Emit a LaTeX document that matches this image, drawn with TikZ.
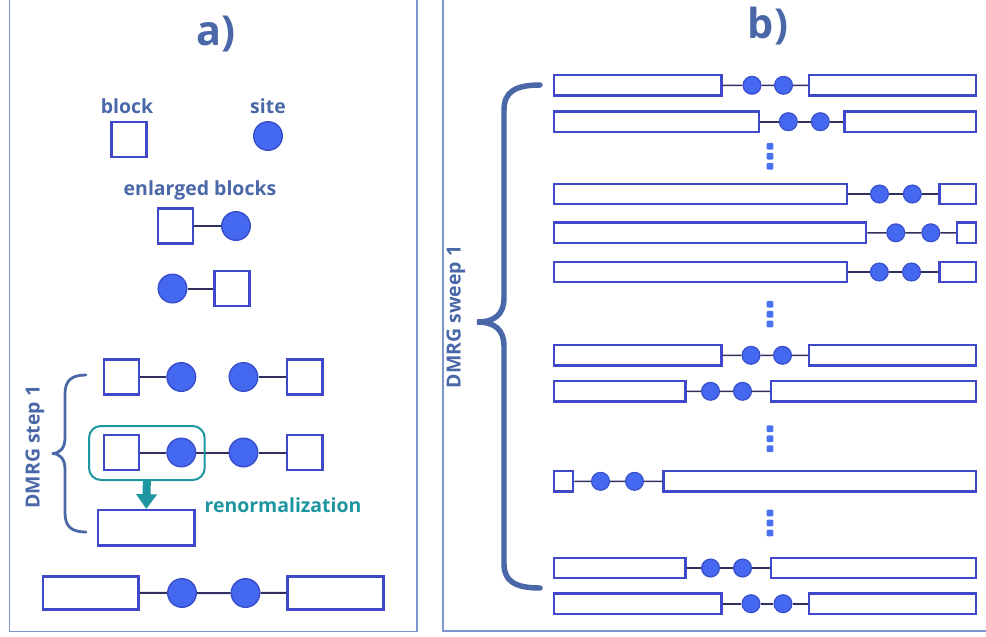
\documentclass[tikz,border=0pt]{standalone}
\usepackage{fontspec}
\setmainfont{Open Sans}
\usetikzlibrary{fit,arrows.meta}
\definecolor{tblue}{RGB}{74,103,168}
\definecolor{framec}{RGB}{128,148,204}
\definecolor{sqblue}{RGB}{62,72,200}
\definecolor{sitefill}{RGB}{68,104,240}
\definecolor{siteline}{RGB}{58,79,204}
\definecolor{myteal}{RGB}{30,150,160}
\definecolor{connc}{RGB}{48,48,96}
\definecolor{dotc}{RGB}{74,114,240}
\newcommand\bRow[6]{%
  \node[brect, fit={(553.8,#6-10.2) (#2-1.1,#6+10.2)}] (#1L) {};
  \node[bsite] (#1a) at (#3,#6) {};
  \node[bsite] (#1b) at (#4,#6) {};
  \node[brect, fit={(#5+1.1,#6-10.2) (976.2,#6+10.2)}] (#1R) {};
  \draw[bconn] (#1L) -- (#1a) -- (#1b) -- (#1R);
}
\begin{document}
\begin{tikzpicture}[x=0.75pt,y=-0.75pt,
  lbl/.style={text=tblue, font=\bfseries\fontsize{14.6}{16}\selectfont, inner sep=0pt},
  titl/.style={text=tblue, font=\bfseries\fontsize{31}{36}\selectfont, inner sep=0pt},
  ablk/.style={draw=sqblue, line width=1.9pt, fill=white, minimum size=26.3pt, inner sep=0pt},
  asite/.style={circle, draw=siteline, line width=1.1pt, fill=sitefill, minimum size=21.4pt, inner sep=0pt},
  arect/.style={draw=sqblue, line width=1.9pt, fill=white, inner sep=0pt},
  brect/.style={draw=sqblue, line width=1.7pt, fill=white, inner sep=0pt},
  bsite/.style={circle, draw=siteline, line width=0.9pt, fill=sitefill, minimum size=13.4pt, inner sep=0pt},
  aconn/.style={draw=connc, line width=1.5pt},
  bconn/.style={draw=connc, line width=1.2pt},
  dotn/.style={fill=dotc, rounded corners=0.8pt, minimum size=5pt, inner sep=0pt},
  tealbox/.style={draw=myteal, line width=1.5pt, rounded corners=9pt, inner sep=0pt},
  tarrow/.style={draw=myteal, line width=6pt, -{Triangle[width=15pt,length=11pt]}},
  bracec/.style={draw=tblue, line cap=round},
  framel/.style={draw=framec, line width=0.8pt}
]
\useasboundingbox (0,0) rectangle (986,636);

% frames
\draw[framel] (9.3,-5) -- (9.3,631.5) -- (417,631.5) -- (417,-5);
\draw[framel] (443,-5) -- (443,631) -- (992,631);

% titles
\node[titl, anchor=base] (ta) at (216,45) {a)};
\node[titl, anchor=base] (tb) at (768,38) {b)};

% ---------- panel a ----------
\node[lbl, anchor=base] (lblock) at (127,113) {block};
\node[lbl, anchor=base] (lsite) at (268,113) {site};
\node[ablk] (blk) at (129,139.3) {};
\node[asite] (site) at (268,136) {};

\node[lbl, anchor=base] (lenl) at (200,195) {enlarged blocks};
\node[ablk] (e1s) at (175.5,226) {};
\node[asite] (e1c) at (236,226) {};
\draw[aconn] (e1s) -- (e1c);
\node[asite] (e2c) at (172.5,288.5) {};
\node[ablk] (e2s) at (232,288.5) {};
\draw[aconn] (e2c) -- (e2s);

% DMRG step rows
\node[ablk] (s1a) at (121.3,377) {};
\node[asite] (s1b) at (181.3,377) {};
\node[asite] (s1c) at (243.5,377) {};
\node[ablk] (s1d) at (304.7,377) {};
\draw[aconn] (s1a) -- (s1b);
\draw[aconn] (s1c) -- (s1d);

\node[ablk] (s2a) at (121.3,452.5) {};
\node[asite] (s2b) at (181.3,452.5) {};
\node[asite] (s2c) at (243.5,452.5) {};
\node[ablk] (s2d) at (304.7,452.5) {};
\draw[aconn] (s2a) -- (s2b) -- (s2c) -- (s2d);

\node[tealbox, fit={(89,426) (204.7,480)}] (tbox) {};
\node[arect, fit={(98,510.2) (194.5,545.5)}] (ren) {};
\draw[tarrow] (tbox.south) -- (ren.north);
\node[lbl, anchor=base, text=myteal] (lren) at (283,512) {renormalization};

\draw[bracec, line width=2.1pt] (86,375) .. controls (72,375) and (65,380) .. (65,394) -- (65,438)
  .. controls (65,448) and (60,453.5) .. (52,453.5)
  .. controls (60,453.5) and (65,459) .. (65,469) -- (65,513)
  .. controls (65,527) and (72,532) .. (86,532);
\node[lbl, rotate=90] (lstep) at (35,447) {DMRG step 1};

% bottom row a
\node[arect, fit={(43,576.3) (138.7,609.4)}] (f1) {};
\node[asite] (f2) at (182,593) {};
\node[asite] (f3) at (245.5,593) {};
\node[arect, fit={(287.3,576.3) (383.7,609.4)}] (f4) {};
\draw[aconn] (f1) -- (f2) -- (f3) -- (f4);

% ---------- panel b ----------
\bRow{r1}{722.5}{752}{783.5}{808}{85.3}
\bRow{r2}{760}{788.3}{820.3}{843.3}{121.7}
\bRow{r3}{848.3}{879.5}{912.3}{938.3}{194}
\bRow{r4}{867.3}{895.8}{930.8}{956}{232.8}
\bRow{r5}{848.3}{879.3}{911.5}{938.3}{272}
\bRow{r6}{722.5}{751}{782.5}{808}{355.3}
\bRow{r7}{686.7}{710.5}{742.5}{770}{391.3}
\bRow{r8}{574.3}{600.5}{634.5}{662.3}{481.3}
\bRow{r9}{686.7}{710.5}{742.5}{770}{568}
\bRow{r10}{722.5}{751}{783}{808}{603.7}

\foreach \yy [count=\i] in {146.3,156.3,166.3,304.3,314.2,324,428.8,438.7,448.7,513,523,533}
  \node[dotn] (dot\i) at (770,\yy) {};

\draw[bracec, line width=4.1pt] (540,85) .. controls (515,85) and (504,92) .. (504,110) -- (504,298)
  .. controls (504,314) and (495,322) .. (477,322)
  .. controls (495,322) and (504,330) .. (504,346) -- (504,564)
  .. controls (504,581) and (515,588) .. (540,588);
\node[lbl, rotate=90] (lsweep) at (456,317) {DMRG sweep 1};
\end{tikzpicture}
\end{document}
